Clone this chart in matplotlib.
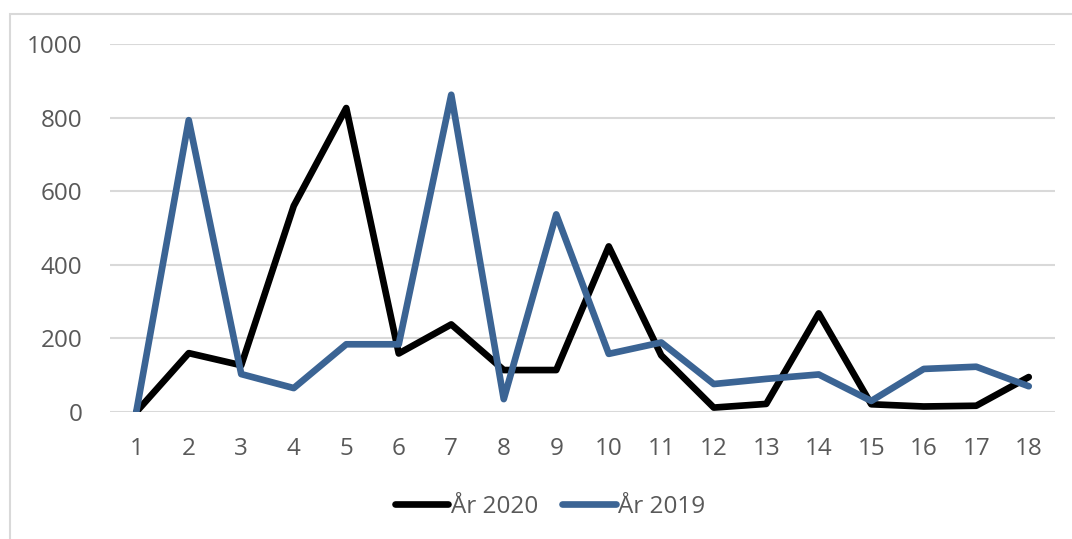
import matplotlib.pyplot as plt
from matplotlib.patches import Rectangle

plt.rcParams['font.family'] = ['Open Sans', 'DejaVu Sans']

weeks = list(range(1, 19))
year_2020 = [0, 160, 127, 560, 826, 159, 238, 114, 114, 450, 154, 12, 22, 268, 21, 15, 17, 95]
year_2019 = [0, 793, 103, 65, 184, 184, 862, 35, 537, 158, 189, 76, 90, 102, 30, 117, 123, 70]

fig = plt.figure(figsize=(10.72, 5.39), dpi=100)
ax = fig.add_axes([110 / 1072, 1 - 412 / 539, 945 / 1072, 368 / 539])

# chart border (cut off at right/bottom like the screenshot)
fig.patches.append(Rectangle((10 / 1072, -0.1), 1.2, 1 - 14 / 539 + 0.1,
                             transform=fig.transFigure, fill=False,
                             edgecolor='#D9D9D9', linewidth=1.5))

ax.plot(weeks, year_2020, color='black', linewidth=4.8, label='År 2020',
        solid_joinstyle='round', solid_capstyle='round')
ax.plot(weeks, year_2019, color='#3B6494', linewidth=4.8, label='År 2019',
        solid_joinstyle='round', solid_capstyle='round')

ax.set_xlim(0.5, 18.5)
ax.set_ylim(0, 1000)
ax.set_xticks(weeks)
ax.set_yticks(range(0, 1001, 200))
ax.grid(axis='y', color='#D9D9D9', linewidth=1.5)
ax.set_axisbelow(True)
for s in ax.spines.values():
    s.set_visible(False)
ax.tick_params(length=0, labelsize=17.5, colors='#595959')
ax.tick_params(axis='y', pad=20)
ax.tick_params(axis='x', pad=18)

leg = fig.legend(loc='center', bbox_to_anchor=(550 / 1072, 1 - 507 / 539), ncol=2,
                 frameon=False, fontsize=17.5, handlelength=2.2, handletextpad=0.1,
                 columnspacing=1.0)
for t in leg.get_texts():
    t.set_color('#595959')

fig.savefig('out.png', dpi=100)
